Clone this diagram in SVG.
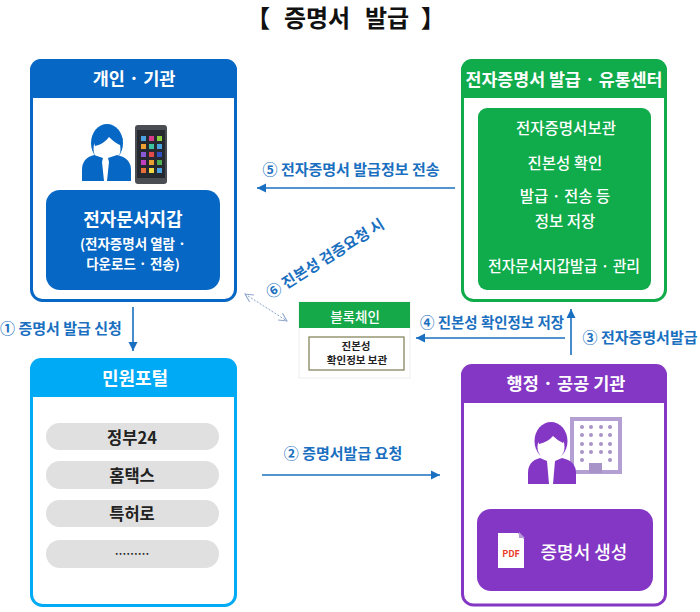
<svg xmlns="http://www.w3.org/2000/svg" width="700" height="612" viewBox="0 0 700 612">
<style>
text{font-family:"Noto Sans CJK KR","Noto Sans",sans-serif;text-anchor:middle;font-weight:700}
.w{fill:#fff}
.h{font-size:17.500px;fill:#fff}
.s{font-size:15.500px;fill:#fff;font-weight:500}
.l{font-size:15px;fill:#1a6fc0}
.p{font-size:16.500px;fill:#222}
.card{fill:#fff;stroke-width:3}
.ln{stroke:#1a6fc0;stroke-width:1.600;fill:none}
</style>
<defs>
<marker id="a" markerUnits="userSpaceOnUse" markerWidth="10" markerHeight="10" refX="9" refY="5" orient="auto"><path d="M0 0.500L9 5L0 9.500z" fill="#1a6fc0"/></marker>
<marker id="d" markerUnits="userSpaceOnUse" markerWidth="10" markerHeight="10" refX="9" refY="5" orient="auto-start-reverse"><path d="M1 1L9 5L1 9" fill="none" stroke="#8aa3cc" stroke-width="1"/></marker>
</defs>
<rect width="700" height="612" fill="#fff"/>
<g id="title" fill="#111" font-size="24">
<text x="258" y="27">【</text>
<text x="317" y="27">증명서</text>
<text x="387" y="27">발급</text>
<text x="433" y="27">】</text>
</g>

<g id="n-person">
<rect class="card" x="31.500" y="60.500" width="204" height="240" rx="11" stroke="#0667c4"/>
<path d="M30 98V70a11 11 0 0 1 11-11H226a11 11 0 0 1 11 11V98z" fill="#0667c4"/>
<text class="h" x="134" y="85">개인 · 기관</text>
<ellipse cx="107" cy="143" rx="16" ry="19" fill="#0667c4"/>
<ellipse cx="107" cy="149" rx="13.500" ry="14" fill="#fff"/>
<path d="M95 146q9-2 14-9q6 6 11 8l3-6q-14-12-30 0z" fill="#0667c4"/>
<path d="M82 181v-11q0-12 12-15l9 3-1 4 2 19h3l2-19-1-4 9-3q14 3 14 15v11z" fill="#0667c4"/>
<rect x="135" y="125" width="32" height="59" rx="3" fill="#4a4d52"/>
<rect x="137" y="130" width="28" height="48" fill="#26292f"/>
<g fill="#4aa3e0"><rect x="141" y="136" width="5" height="5"/><rect x="141" y="144" width="5" height="5" fill="#f0a030"/><rect x="141" y="152" width="5" height="5" fill="#8a5ad6"/><rect x="141" y="160" width="5" height="5" fill="#c040c0"/><rect x="141" y="168" width="5" height="5" fill="#e8703a"/><rect x="149" y="136" width="5" height="5" fill="#d83a8a"/><rect x="149" y="144" width="5" height="5" fill="#3ac4a0"/><rect x="149" y="152" width="5" height="5" fill="#e04a4a"/><rect x="149" y="160" width="5" height="5" fill="#e8a030"/><rect x="149" y="168" width="5" height="5" fill="#f0d840"/><rect x="157" y="136" width="5" height="5" fill="#8ad040"/><rect x="157" y="144" width="5" height="5"/><rect x="157" y="152" width="5" height="5" fill="#3050c0"/><rect x="157" y="160" width="5" height="5" fill="#50b050"/><rect x="157" y="168" width="5" height="5"/></g>
<rect x="46" y="190" width="174" height="100" rx="14" fill="#0667c4"/>
<text class="w" x="133" y="226" font-size="18">전자문서지갑</text>
<text class="w" x="133" y="249" font-size="13.500">(전자증명서 열람 ·</text>
<text class="w" x="133" y="269" font-size="13.500">다운로드 · 전송)</text>
</g>

<g id="n-center">
<rect class="card" x="462.500" y="60.500" width="203" height="240" rx="11" stroke="#10ab4b"/>
<path d="M461 98V70a11 11 0 0 1 11-11H656a11 11 0 0 1 11 11V98z" fill="#10ab4b"/>
<text x="564" y="86" font-size="17.500" class="w" textLength="197" lengthAdjust="spacingAndGlyphs">전자증명서 발급 · 유통센터</text>
<rect x="478" y="108" width="173" height="182" rx="9" fill="#10ab4b"/>
<text class="s" x="566" y="134">전자증명서보관</text>
<text class="s" x="565" y="169">진본성 확인</text>
<text class="s" x="565" y="202">발급 · 전송 등</text>
<text class="s" x="565" y="227">정보 저장</text>
<text class="s" x="564" y="272" textLength="152" lengthAdjust="spacingAndGlyphs">전자문서지갑발급 · 관리</text>
</g>

<g id="n-portal">
<rect class="card" x="31.500" y="360.500" width="204" height="245" rx="11" stroke="#00aaf5"/>
<path d="M30 397V369a11 11 0 0 1 11-11H226a11 11 0 0 1 11 11V397z" fill="#00aaf5"/>
<text class="h" x="135" y="385" style="font-size:18px">민원포털</text>
<g fill="#e0e0e0"><rect x="46" y="423" width="173" height="27" rx="13.500"/><rect x="46" y="461" width="173" height="28" rx="14"/><rect x="46" y="500" width="173" height="27" rx="13.500"/><rect x="46" y="540" width="173" height="28" rx="14"/></g>
<text class="p" x="132" y="444">정부24</text>
<text class="p" x="132" y="482">홈택스</text>
<text class="p" x="132" y="520">특허로</text>
<text class="p" x="132" y="558" style="font-size:11.500px">………</text>
</g>

<g id="n-agency">
<rect class="card" x="462.500" y="366" width="203" height="239" rx="11" stroke="#8437c4"/>
<path d="M461 403V375a11 11 0 0 1 11-11H656a11 11 0 0 1 11 11V403z" fill="#8437c4"/>
<text class="h" x="566" y="390">행정 · 공공 기관</text>
<rect x="572" y="419" width="48" height="53" fill="#fff" stroke="#b39fd2" stroke-width="4"/>
<g fill="#a893c8"><circle cx="582" cy="427" r="2"/><circle cx="591" cy="427" r="2"/><circle cx="601" cy="427" r="2"/><circle cx="610" cy="427" r="2"/><circle cx="582" cy="435" r="2"/><circle cx="591" cy="435" r="2"/><circle cx="601" cy="435" r="2"/><circle cx="610" cy="435" r="2"/><circle cx="582" cy="444" r="2"/><circle cx="591" cy="444" r="2"/><circle cx="601" cy="444" r="2"/><circle cx="610" cy="444" r="2"/><circle cx="582" cy="452" r="2"/><circle cx="591" cy="452" r="2"/><circle cx="601" cy="452" r="2"/><circle cx="610" cy="452" r="2"/><circle cx="582" cy="460" r="2"/><circle cx="610" cy="460" r="2"/><rect x="589" y="463" width="13" height="10"/></g>
<ellipse cx="551" cy="441" rx="16.500" ry="19" fill="#8437c4"/>
<ellipse cx="551" cy="447" rx="13.500" ry="14" fill="#fff"/>
<path d="M539 444q9-2 14-8q5 5 10 7l3-6q-14-12-30 0z" fill="#8437c4"/>
<path d="M528 484v-11q0-12 12-15l7 3 2 23h4l2-23 7-3q14 3 14 15v11z" fill="#8437c4"/>
<rect x="477" y="509" width="176" height="82" rx="14" fill="#8437c4"/>
<path d="M498 533H518L524 539V568H498z" fill="#fff"/>
<path d="M519 532l6 6h-6z" fill="#b59ad8"/>
<text x="511" y="557" font-size="9" fill="#e8392c">PDF</text>
<text class="w" x="584" y="559" font-size="18" style="font-weight:500">증명서 생성</text>
</g>

<g id="n-blockchain">
<rect x="299" y="302" width="111" height="76" fill="#fff" stroke="#eee" stroke-width="1"/>
<rect x="299" y="302" width="111" height="26" fill="#16a94a"/>
<text x="355" y="322" font-size="13.500" class="w" style="font-weight:500">블록체인</text>
<rect x="309" y="337" width="95" height="33" fill="#fff" stroke="#7c7c50" stroke-width="1.200"/>
<text x="356" y="350" font-size="10.500" fill="#222">진본성</text>
<text x="357" y="364" font-size="10.500" fill="#222">확인정보 보관</text>
</g>

<g id="connectors">
<path class="ln" d="M133 307V351" marker-end="url(#a)"/>
<path class="ln" d="M262 475H440" marker-end="url(#a)"/>
<path class="ln" d="M571 355V309" marker-end="url(#a)"/>
<path class="ln" d="M565 338H416" marker-end="url(#a)"/>
<path class="ln" d="M455 188H257" marker-end="url(#a)"/>
<path d="M245 294L287 321" stroke="#8aa3cc" stroke-width="1" stroke-dasharray="2 1.500" fill="none" marker-start="url(#d)" marker-end="url(#d)"/>
</g>

<g id="labels">
<text class="l" x="61" y="334">① 증명서 발급 신청</text>
<text class="l" x="343" y="459">② 증명서발급 요청</text>
<text class="l" x="640" y="343">③ 전자증명서발급</text>
<text class="l" x="492" y="328" textLength="144" lengthAdjust="spacingAndGlyphs">④ 진본성 확인정보 저장</text>
<text class="l" x="351" y="175">⑤ 전자증명서 발급정보 전송</text>
<text class="l" transform="translate(328 263) rotate(-32)">⑥ 진본성 검증요청 시</text>
</g>
</svg>
